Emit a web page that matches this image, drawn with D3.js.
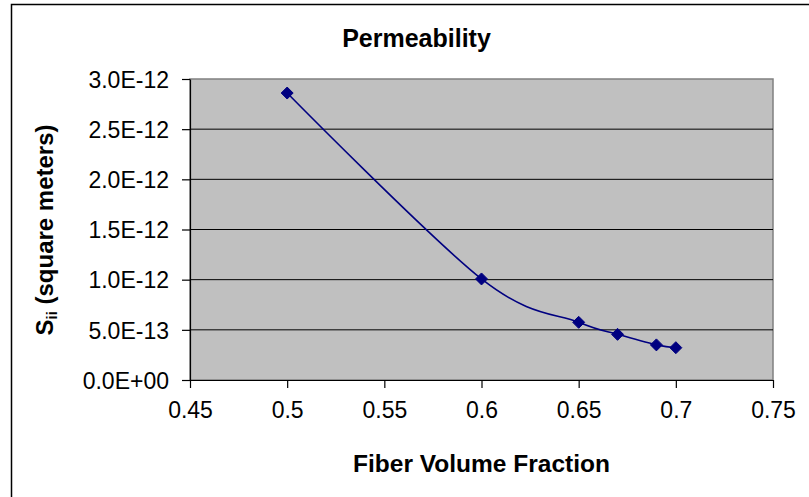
<!DOCTYPE html>
<html><head><meta charset="utf-8">
<script src="https://cdn.jsdelivr.net/npm/d3@7"></script>
<style>body{margin:0;background:#fff}svg{display:block}text{font-family:"Liberation Sans",Arial,sans-serif;fill:#000}</style>
</head><body>
<svg id="c" width="809" height="497"></svg>
<script>
const fiberFraction = [0.5, 0.6, 0.65, 0.67, 0.69, 0.7];
const permeability = [2.86e-12, 1.007e-12, 0.575e-12, 0.455e-12, 0.35e-12, 0.322e-12];
const xTicks = [0.45, 0.5, 0.55, 0.6, 0.65, 0.7, 0.75];
const yTicks = [0, 0.5e-12, 1.0e-12, 1.5e-12, 2.0e-12, 2.5e-12, 3.0e-12];
const yTickLabels = ["0.0E+00","5.0E-13","1.0E-12","1.5E-12","2.0E-12","2.5E-12","3.0E-12"];
const titleText = "Permeability";
const xTitle = "Fiber Volume Fraction";

const svg = d3.select("#c");
const L = 190, R = 773, T = 79, B = 380;
const x = d3.scaleLinear().domain([0.45, 0.75]).range([L, R]);
const y = d3.scaleLinear().domain([0, 3e-12]).range([B, T]);

// outer chart border
svg.append("rect").attr("x", 11.5).attr("y", 4.5).attr("width", 830).attr("height", 520)
  .attr("fill", "#fff").attr("stroke", "#000").attr("stroke-width", 1.5);

// plot area
svg.append("rect").attr("x", L).attr("y", T).attr("width", R - L).attr("height", B - T)
  .attr("fill", "#c0c0c0").attr("stroke", "#808080").attr("stroke-width", 1.5);

// gridlines
svg.append("g").selectAll("line").data(yTicks.slice(1, -1)).join("line")
  .attr("x1", L).attr("x2", R).attr("y1", d => y(d)).attr("y2", d => y(d))
  .attr("stroke", "#000").attr("stroke-width", 1);

// axes
const yAxis = d3.axisLeft(y).tickValues(yTicks).tickSizeOuter(0).tickSizeInner(8).tickPadding(13)
  .tickFormat((d, i) => yTickLabels[i]);
const gy = svg.append("g").attr("transform", `translate(${L},0)`).call(yAxis);
gy.selectAll("text").style("font-size", "23px").attr("dy", "0.36em");
gy.selectAll("line, path").attr("stroke", "#000").attr("stroke-width", 1.2);

const xAxis = d3.axisBottom(x).tickValues(xTicks).tickSizeOuter(0).tickSizeInner(8).tickPadding(14)
  .tickFormat(d => String(d));
const gx = svg.append("g").attr("transform", `translate(0,${B})`).call(xAxis);
gx.selectAll("text").style("font-size", "23px");
gx.selectAll("line, path").attr("stroke", "#000").attr("stroke-width", 1.2);

// series line
const pts = fiberFraction.map((f, i) => [x(f), y(permeability[i])]);
svg.append("path").datum(pts)
  .attr("d", d3.line().curve(d3.curveCardinal.tension(0)))
  .attr("fill", "none").attr("stroke", "#000080").attr("stroke-width", 1.6);

// markers
svg.append("g").selectAll("path").data(pts).join("path")
  .attr("transform", d => `translate(${d[0]},${d[1]})`)
  .attr("d", "M0,-6L6,0L0,6L-6,0Z")
  .attr("fill", "#000080").attr("stroke", "#000080").attr("stroke-width", 1);

// titles
svg.append("text").attr("x", 416.5).attr("y", 47).attr("text-anchor", "middle")
  .style("font-size", "25px").style("font-weight", "bold").text(titleText);
svg.append("text").attr("x", 481.5).attr("y", 472).attr("text-anchor", "middle")
  .style("font-size", "24.5px").style("font-weight", "bold").text(xTitle);

const yl = svg.append("text").attr("transform", "translate(53,230) rotate(-90)")
  .attr("text-anchor", "middle").style("font-size", "24px").style("font-weight", "bold");
yl.append("tspan").text("S");
yl.append("tspan").attr("dy", 4).style("font-size", "15px").text("ii");
yl.append("tspan").attr("dy", -4).text(" (square meters)");
</script>
</body></html>
